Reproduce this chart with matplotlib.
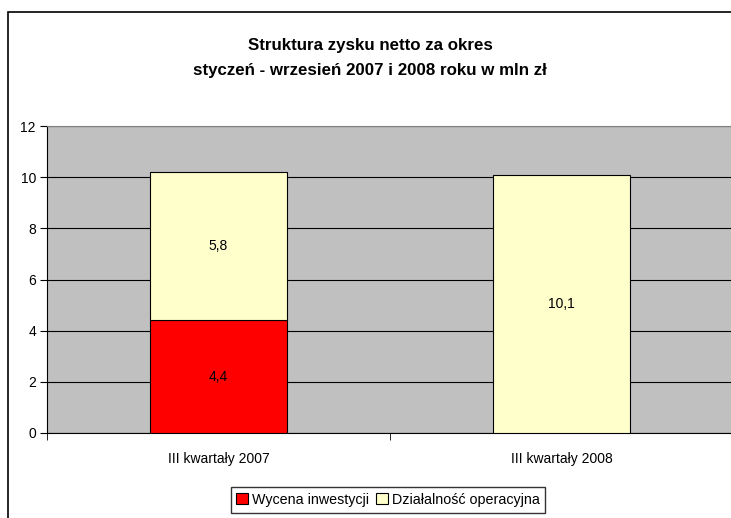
import numpy as np
import matplotlib.pyplot as plt
from matplotlib.patches import Rectangle

plt.rcParams['font.family'] = ['Liberation Sans Narrow', 'Liberation Sans', 'DejaVu Sans']

## data
categories = ['III kwartały 2007', 'III kwartały 2008']
wycena = [4.4, 0.0]
operacyjna = [5.8, 10.1]
series_names = ['Wycena inwestycji', 'Działalność operacyjna']
title = 'Struktura zysku netto za okres\nstyczeń - wrzesień 2007 i 2008 roku w mln zł'

W, H = 731, 518
fig = plt.figure(figsize=(W / 100, H / 100), dpi=100)

# outer chart frame (runs off right/bottom edge like the original)
fig.patches.append(Rectangle((8 / W, -0.1), 1.2, 1 - 12 / H + 0.1, transform=fig.transFigure,
                             fill=False, edgecolor='black', linewidth=1.2))

ax = fig.add_axes([47 / W, 1 - 433 / H, (733 - 47) / W, (433 - 126) / H])
ax.set_facecolor('#C0C0C0')

x = np.arange(len(categories))
ax.bar(x, wycena, width=0.4, color='#FF0000', edgecolor='black', linewidth=0.8,
       label=series_names[0], zorder=3)
ax.bar(x, operacyjna, width=0.4, bottom=wycena, color='#FFFFCC', edgecolor='black',
       linewidth=0.8, label=series_names[1], zorder=3)

# value labels
for i in range(len(x)):
    if wycena[i] > 0:
        ax.text(x[i], wycena[i] / 2, f'{wycena[i]:.1f}'.replace('.', ','),
                ha='center', va='center', fontsize=10, zorder=4)
    if operacyjna[i] > 0:
        ax.text(x[i], wycena[i] + operacyjna[i] / 2, f'{operacyjna[i]:.1f}'.replace('.', ','),
                ha='center', va='center', fontsize=10, zorder=4)

ax.set_xlim(-0.5, 1.5)
ax.set_ylim(0, 12)
ax.set_yticks(range(0, 13, 2))
ax.yaxis.grid(True, color='black', linewidth=0.8, zorder=1)
ax.set_axisbelow(True)

ax.set_xticks(x)
ax.set_xticklabels(categories, fontsize=10)
ax.set_xticks([-0.5, 0.5, 1.5], minor=True)
ax.tick_params(axis='x', which='major', length=0, pad=14)
ax.tick_params(axis='x', which='minor', length=5, color='black')
ax.tick_params(axis='y', length=5, labelsize=10, pad=3)

ax.spines['top'].set_color('#808080')
ax.spines['right'].set_visible(False)
ax.spines['left'].set_color('black')
ax.spines['bottom'].set_color('black')

fig.text(370 / W, 1 - 58 / H, title, ha='center', va='center', fontsize=12.2,
         fontweight='bold', linespacing=1.85)

fig.legend(loc='upper center', bbox_to_anchor=(388 / W, 1 - 480 / H), ncol=2,
           fontsize=10.3, frameon=True, fancybox=False, edgecolor='black',
           handlelength=0.8, handleheight=0.8, handletextpad=0.3, columnspacing=0.5,
           borderpad=0.4)

fig.savefig('out.png', dpi=100)
